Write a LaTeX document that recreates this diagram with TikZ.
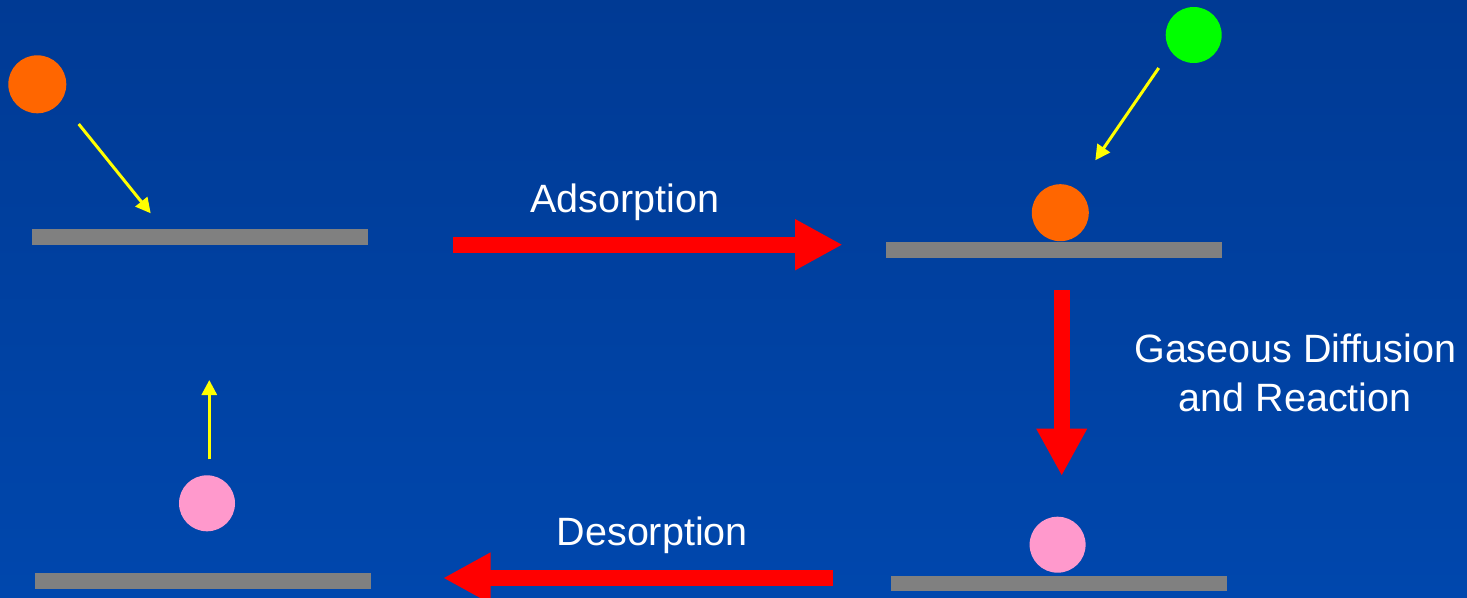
\documentclass[tikz,border=0pt]{standalone}
\usepackage{fontspec}
\setmainfont{Liberation Sans}
\usetikzlibrary{arrows.meta}
\definecolor{bgtop}{HTML}{003A94}
\definecolor{bgbot}{HTML}{0047AD}
\definecolor{orangeball}{HTML}{FF6600}
\definecolor{greenball}{HTML}{00FF00}
\definecolor{pinkball}{HTML}{FF99CC}
\definecolor{surf}{HTML}{808080}
\definecolor{redarrow}{HTML}{FF0000}
\definecolor{yelarrow}{HTML}{FFFF00}
\tikzset{
  ball/.style={circle, inner sep=0pt, minimum size=#1},
  bar/.style={rectangle, fill=surf, inner sep=0pt, minimum width=336pt, minimum height=15.5pt},
  bigarrow/.style={draw=redarrow, line width=16pt, -{Triangle[length=47.5pt,width=47.5pt]}, fill=redarrow},
  smallarrow/.style={draw=yelarrow, line width=3pt, -{Triangle[length=15pt,width=15pt]}},
  lbl/.style={text=white, inner sep=0pt, font=\fontsize{39.5}{48.6}\selectfont}
}
\begin{document}
\begin{tikzpicture}[x=1pt,y=-1pt]
\useasboundingbox (0,0) rectangle (1467,597);
\shade[top color=bgtop, bottom color=bgbot] (0,0) rectangle (1467,597);

% stage 1 (top left)
\node[ball=58pt, fill=orangeball] (o1) at (37.3,84.3) {};
\node[bar] (bar1) at (200,237) {};
\coordinate (y1s) at (78.7,124);
\coordinate (y1e) at (150.7,213.3);
\draw[smallarrow] (y1s) -- (y1e);

% stage 2 (top right)
\node[ball=56pt, fill=greenball] (g2) at (1193.7,35) {};
\node[ball=57pt, fill=orangeball] (o2) at (1060.3,212.7) {};
\node[bar] (bar2) at (1053.7,250) {};
\coordinate (y2s) at (1158.7,68);
\coordinate (y2e) at (1095.3,160.3);
\draw[smallarrow] (y2s) -- (y2e);

% stage 3 (bottom right)
\node[ball=56pt, fill=pinkball] (p3) at (1057.6,544.7) {};
\node[bar] (bar3) at (1058.9,583.3) {};

% stage 4 (bottom left)
\node[ball=56pt, fill=pinkball] (p4) at (207,503.3) {};
\node[bar] (bar4) at (203,580.8) {};
\coordinate (y4s) at (209.3,459.3);
\coordinate (y4e) at (209.3,380);
\draw[smallarrow] (y4s) -- (y4e);

% big red arrows
\coordinate (a1s) at (453.3,244.7);
\coordinate (a1e) at (842.7,244.7);
\draw[bigarrow] (a1s) -- (a1e);
\coordinate (a2s) at (1061.7,290);
\coordinate (a2e) at (1061.7,476);
\draw[bigarrow] (a2s) -- (a2e);
\coordinate (a3s) at (832.7,578);
\coordinate (a3e) at (443,578);
\draw[bigarrow] (a3s) -- (a3e);

% labels
\node[lbl, anchor=base] (ads) at (624.9,212.7) {Adsorption};
\node[lbl, anchor=base, align=center] (gdr) at (1295.3,411.3) {Gaseous Diffusion\\and Reaction};
\node[lbl, anchor=base] (des) at (652.3,545) {Desorption};
\end{tikzpicture}
\end{document}
